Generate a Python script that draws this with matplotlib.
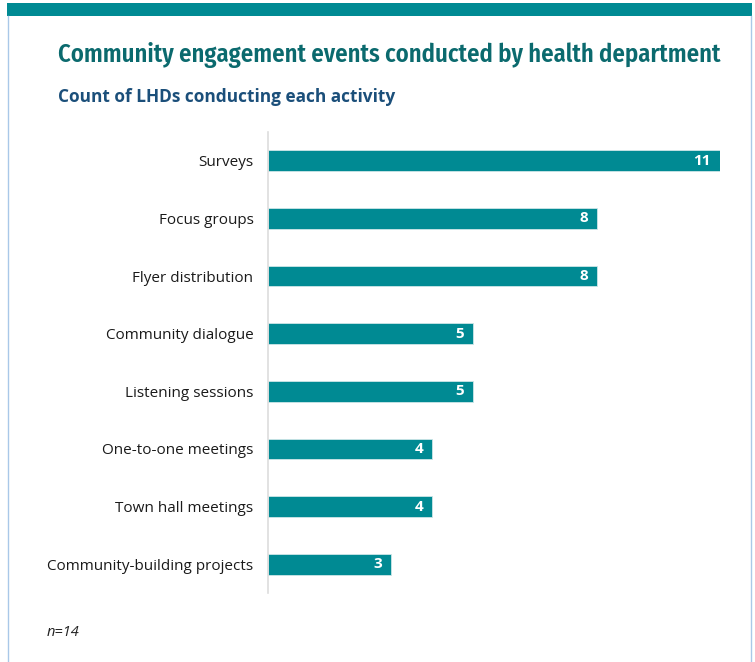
import matplotlib.pyplot as plt
from matplotlib.patches import Rectangle
from matplotlib.lines import Line2D

activities = ['Surveys', 'Focus groups', 'Flyer distribution', 'Community dialogue',
              'Listening sessions', 'One-to-one meetings', 'Town hall meetings',
              'Community-building projects']
counts = [11, 8, 8, 5, 5, 4, 4, 3]

teal = '#008A93'
W, H = 755, 662

fig = plt.figure(figsize=(W / 100, H / 100), dpi=100)
fig.patch.set_facecolor('white')

# frame: teal band on top, thin light-blue sides
fig.add_artist(Rectangle((7 / W, 1 - 16 / H), 745 / W, 13 / H, transform=fig.transFigure,
                         facecolor=teal, edgecolor='none'))
for xp in (7.5, 750.5):
    fig.add_artist(Line2D([xp / W, xp / W], [0, 1 - 16 / H], transform=fig.transFigure,
                          color='#A9C8E8', lw=1))

fig.text(58 / W, 1 - 55 / H, 'Community engagement events conducted by health department',
         family=['Fira Sans Condensed', 'DejaVu Sans'], weight=600, fontsize=17.7,
         color='#0B6A6E', va='center', ha='left')
fig.text(58 / W, 1 - 97 / H, 'Count of LHDs conducting each activity',
         family=['Open Sans', 'DejaVu Sans'], weight='bold', fontsize=12.4,
         color='#1B4F7A', va='center', ha='left')
fig.text(47 / W, 1 - 633 / H, 'n=14', family=['Open Sans', 'DejaVu Sans'],
         style='italic', fontsize=10.5, color='#222222', va='center', ha='left')

ax = fig.add_axes([268 / W, 1 - 593 / H, (720 - 268) / W, (593 - 132) / H])
pos = list(range(len(activities)))
ax.barh(pos, counts, height=0.36, color=teal, edgecolor='#CDE6E8', linewidth=0.6)
ax.set_xlim(0, 11)
ax.set_ylim(len(activities) - 0.5, -0.5)
ax.set_yticks(pos)
ax.set_yticklabels(activities, family=['Open Sans', 'DejaVu Sans'], fontsize=11, color='#1a1a1a')
ax.tick_params(axis='y', length=0, pad=10.5)
ax.set_xticks([])
for s in ['top', 'right', 'bottom']:
    ax.spines[s].set_visible(False)
ax.spines['left'].set_color('#DDDDDD')
ax.spines['left'].set_linewidth(1.2)

for p, c in zip(pos, counts):
    ax.annotate(str(c), (c, p), xytext=(-6.5, 0), textcoords='offset points',
                ha='right', va='center', color='white', weight='bold', fontsize=11,
                family=['Open Sans', 'DejaVu Sans'])

fig.savefig('out.png', dpi=100)
